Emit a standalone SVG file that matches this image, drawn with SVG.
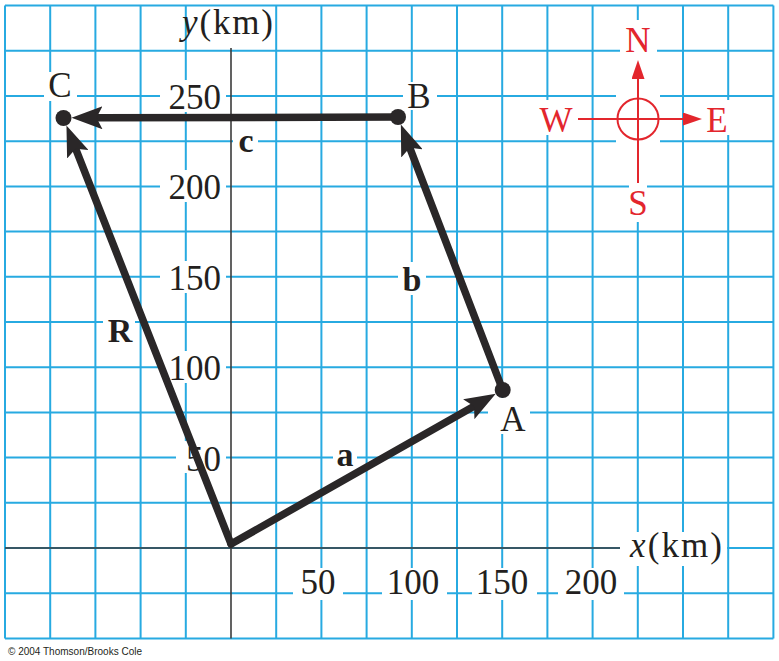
<svg xmlns="http://www.w3.org/2000/svg" width="779" height="661" viewBox="0 0 779 661">
<style>
.grid{stroke:#27aae1;stroke-width:2;fill:none}
.axis{stroke:#3c3c3c;stroke-width:1.6;fill:none}
.bg{fill:#fff}
.vec{stroke:#2a2728;stroke-width:7.5;fill:none;stroke-linecap:round}
.dot{fill:#2a2728}
.num{font-family:"Liberation Serif",serif;font-size:35px;fill:#231f20}
.lbl{font-family:"Liberation Serif",serif;font-size:35px;fill:#231f20;text-anchor:middle}
.bold{font-family:"Liberation Serif",serif;font-size:34px;font-weight:bold;fill:#231f20;text-anchor:middle}
.red{stroke:#e3262d;stroke-width:2;fill:none}
.redt{font-family:"Liberation Serif",serif;font-size:35px;fill:#e3262d;text-anchor:middle}
.copy{font-family:"Liberation Sans",Arial,sans-serif;font-size:10.5px;fill:#231f20}
</style>
<defs>
<marker id="head" viewBox="0 0 32 23" markerWidth="32" markerHeight="23" refX="6" refY="11.5" orient="auto" markerUnits="userSpaceOnUse">
<path d="M0,0 L31,11.5 L0,23 L6,11.5 Z" fill="#2a2728"/>
</marker>
<marker id="redhead" viewBox="0 0 19 13" markerWidth="19" markerHeight="13" refX="0" refY="6.5" orient="auto" markerUnits="userSpaceOnUse">
<path d="M0,0 L19,6.5 L0,13 Z" fill="#e3262d"/>
</marker>
</defs>
<rect x="0" y="0" width="779" height="661" fill="#fff"/>
<g id="grid">
<path class="grid" d="M5,5.6V638.4 M50.2,5.6V638.4 M95.4,5.6V638.4 M140.6,5.6V638.4 M185.8,5.6V638.4 M276.2,5.6V638.4 M321.4,5.6V638.4 M366.6,5.6V638.4 M411.8,5.6V638.4 M457,5.6V638.4 M502.2,5.6V638.4 M547.4,5.6V638.4 M592.6,5.6V638.4 M637.8,5.6V638.4 M683,5.6V638.4 M728.2,5.6V638.4 M773.4,5.6V638.4 M5,5.6H773.4 M5,50.8H773.4 M5,96H773.4 M5,141.2H773.4 M5,186.4H773.4 M5,231.6H773.4 M5,276.8H773.4 M5,322H773.4 M5,367.2H773.4 M5,412.4H773.4 M5,457.6H773.4 M5,502.8H773.4 M5,548H773.4 M5,593.2H773.4 M5,638.4H773.4"/>
</g>
<g id="label-backgrounds">
<rect class="bg" x="195" y="12" width="78" height="24"/>
<rect class="bg" x="160" y="80" width="66" height="32"/>
<rect class="bg" x="160" y="170" width="66" height="32"/>
<rect class="bg" x="160" y="261" width="66" height="32"/>
<rect class="bg" x="160" y="351" width="66" height="32"/>
<rect class="bg" x="176" y="441" width="50" height="32"/>
<rect class="bg" x="293" y="568" width="50" height="32"/>
<rect class="bg" x="382" y="568" width="65" height="32"/>
<rect class="bg" x="472" y="568" width="65" height="32"/>
<rect class="bg" x="558" y="568" width="66" height="32"/>
<rect class="bg" x="620" y="532" width="107" height="34"/>
<rect class="bg" x="44" y="72" width="33" height="29"/>
<rect class="bg" x="403" y="82" width="34" height="28"/>
<rect class="bg" x="488" y="398" width="42" height="36"/>
<rect class="bg" x="233" y="128" width="25" height="28"/>
<rect class="bg" x="398" y="262" width="28" height="33"/>
<rect class="bg" x="103" y="312" width="32" height="33"/>
<rect class="bg" x="333" y="445" width="24" height="25"/>
<rect class="bg" x="629" y="20" width="18" height="202"/>
<rect class="bg" x="616" y="92" width="44" height="54"/>
<rect class="bg" x="620" y="26" width="37" height="30"/>
<rect class="bg" x="537" y="100" width="38" height="35"/>
<rect class="bg" x="705" y="100" width="25" height="35"/>
<rect class="bg" x="626" y="190" width="24" height="30"/>
</g>
<g id="axes">
<path class="axis" d="M231,48V638.4 M5,548H620"/>
<text class="num" x="182" y="34" textLength="91" lengthAdjust="spacing"><tspan font-style="italic">y</tspan>(km)</text>
<text class="num" x="630" y="557" textLength="92" lengthAdjust="spacing"><tspan font-style="italic">x</tspan>(km)</text>
<g text-anchor="end">
<text class="num" x="221" y="109">250</text>
<text class="num" x="221" y="199.4">200</text>
<text class="num" x="221" y="289.8">150</text>
<text class="num" x="221" y="380.2">100</text>
<text class="num" x="221" y="470.6">50</text>
</g>
<g text-anchor="middle">
<text class="num" x="318" y="594">50</text>
<text class="num" x="413" y="594">100</text>
<text class="num" x="502" y="594">150</text>
<text class="num" x="591" y="594">200</text>
</g>
</g>
<g id="connectors">
<path id="vec-a" class="vec" d="M231,544 L474,406.2" marker-end="url(#head)"/>
<path id="vec-R" class="vec" d="M231,544 L75.6,148.7" marker-end="url(#head)"/>
<path id="vec-b" class="vec" d="M502.7,390 L409.8,147.8" marker-end="url(#head)"/>
<path id="vec-c" class="vec" d="M398,117 L96.5,117.8" marker-end="url(#head)"/>
</g>
<g id="connector-labels">
<text class="bold" x="246" y="152">c</text>
<text class="bold" x="412" y="291">b</text>
<text class="bold" x="120" y="342">R</text>
<text class="bold" x="345" y="466">a</text>
</g>
<g id="node-A">
<circle class="dot" cx="502.7" cy="390" r="8"/>
<text class="lbl" x="513" y="431">A</text>
</g>
<g id="node-B">
<circle class="dot" cx="398" cy="117" r="8"/>
<text class="lbl" x="419" y="108">B</text>
</g>
<g id="node-C">
<circle class="dot" cx="63.5" cy="118" r="8"/>
<text class="lbl" x="60" y="97">C</text>
</g>
<g id="compass">
<circle class="red" cx="638" cy="119" r="20.5" fill="#fff"/>
<path class="red" d="M638,183 V79" marker-end="url(#redhead)"/>
<path class="red" d="M578,119 H683" marker-end="url(#redhead)"/>
<text class="redt" x="638" y="52">N</text>
<text class="redt" x="556" y="132">W</text>
<text class="redt" x="717" y="132">E</text>
<text class="redt" x="638" y="215">S</text>
</g>
<text class="copy" x="8" y="655" textLength="134" lengthAdjust="spacingAndGlyphs">© 2004 Thomson/Brooks Cole</text>
</svg>
